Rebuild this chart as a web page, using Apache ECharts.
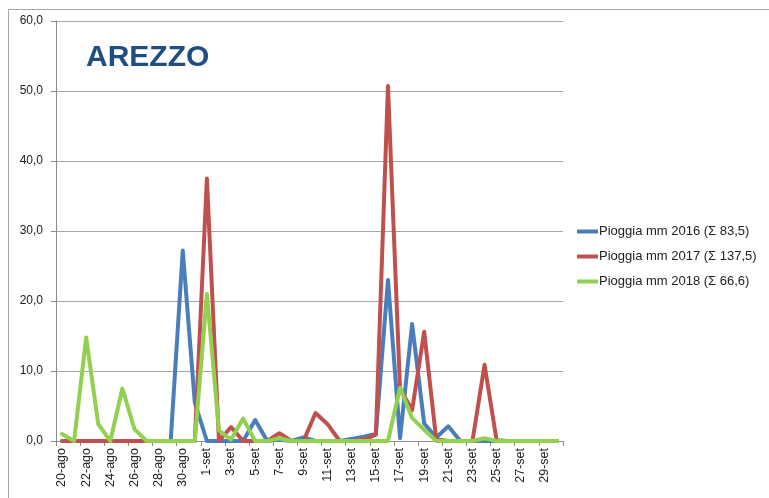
<!DOCTYPE html>
<html>
<head>
<meta charset="utf-8">
<title>Arezzo</title>
<script src="https://cdn.jsdelivr.net/npm/echarts@6/dist/echarts.min.js"></script>
<style>
  html, body { margin: 0; padding: 0; background: #fff; }
  #chart { width: 769px; height: 498px; }
</style>
</head>
<body>
<div id="chart"></div>
<script>
// giorni dal 20 agosto al 30 settembre
const days = [
  '20-ago', '21-ago', '22-ago', '23-ago', '24-ago', '25-ago', '26-ago', '27-ago', '28-ago', '29-ago', '30-ago', '31-ago',
  '1-set', '2-set', '3-set', '4-set', '5-set', '6-set', '7-set', '8-set', '9-set', '10-set',
  '11-set', '12-set', '13-set', '14-set', '15-set', '16-set', '17-set', '18-set', '19-set', '20-set',
  '21-set', '22-set', '23-set', '24-set', '25-set', '26-set', '27-set', '28-set', '29-set', '30-set'
]

const rain2016 = [
  0, 0, 0, 0, 0, 0, 0, 0, 0, 0, 27.2, 5.5,
  0, 0, 0, 0, 3.0, 0, 0.2, 0, 0.5, 0,
  0, 0, 0.3, 0.6, 1.0, 23.0, 0.4, 16.7, 2.5, 0.5,
  2.1, 0, 0, 0, 0, 0, 0, 0, 0, 0
]

const rain2017 = [
  0, 0, 0, 0, 0, 0, 0, 0, 0, 0, 0, 0,
  37.5, 0, 2.0, 0, 0, 0, 1.1, 0, 0, 4.0,
  2.4, 0, 0, 0.2, 0.9, 50.7, 7.5, 4.4, 15.6, 0.2,
  0, 0, 0, 10.9, 0.1, 0, 0, 0, 0, 0
]

const rain2018 = [
  1.0, 0, 14.8, 2.4, 0, 7.5, 1.7, 0, 0, 0, 0, 0,
  21.0, 1.5, 0.2, 3.2, 0, 0, 0.4, 0, 0, 0,
  0, 0, 0, 0, 0, 0, 7.6, 3.3, 1.6, 0,
  0, 0, 0, 0.4, 0, 0, 0, 0, 0, 0
]

const seriesNames = [
  'Pioggia mm 2016 (Σ 83,5)',
  'Pioggia mm 2017 (Σ 137,5)',
  'Pioggia mm 2018 (Σ 66,6)'
]

const colors = ['#4a7ebb', '#c0504d', '#92d050']

const font = '"Liberation Sans", Arial, sans-serif'

const chart = echarts.init(document.getElementById('chart'))

function line(name, data, color) {
  return {
    name,
    type: 'line',
    data,
    symbol: 'none',
    smooth: false,
    lineStyle: {
      width: 4,
      color,
      cap: 'round',
      join: 'round'
    },
    itemStyle: { color },
    animation: false
  }
}

chart.setOption({
  color: colors,
  title: {
    text: 'AREZZO',
    left: 81,
    top: 38,
    textStyle: {
      fontFamily: font,
      fontSize: 30,
      fontWeight: 'bold',
      color: '#1f4e83'
    }
  },
  legend: {
    orient: 'vertical',
    left: 577,
    top: 225,
    padding: 0,
    icon: 'rect',
    itemWidth: 21,
    itemHeight: 4,
    itemGap: 12,
    textStyle: {
      fontFamily: font,
      fontSize: 13,
      color: '#222',
      padding: [0, 0, 0, -4]
    },
    data: seriesNames
  },
  grid: {
    left: 56,
    top: 21,
    right: 206,
    bottom: 57
  },
  xAxis: {
    type: 'category',
    data: days,
    boundaryGap: true,
    axisLine: {
      lineStyle: { color: '#8c8c8c', width: 1 }
    },
    axisTick: {
      show: true,
      interval: 1,
      length: 5,
      lineStyle: { color: '#8c8c8c' }
    },
    axisLabel: {
      interval: 1,
      rotate: 90,
      margin: 7,
      fontFamily: font,
      fontSize: 12.5,
      color: '#222'
    },
    splitLine: { show: false }
  },
  yAxis: {
    type: 'value',
    min: 0,
    max: 60,
    interval: 10,
    axisLine: {
      show: true,
      lineStyle: { color: '#8c8c8c', width: 1 }
    },
    axisTick: {
      show: true,
      length: 5,
      lineStyle: { color: '#8c8c8c' }
    },
    axisLabel: {
      margin: 13,
      fontFamily: font,
      fontSize: 12,
      color: '#222',
      formatter: v => v.toFixed(1).replace('.', ',')
    },
    splitLine: {
      lineStyle: { color: '#a6a6a6', width: 1 }
    }
  },
  graphic: [{
    type: 'polyline',
    shape: { points: [[8.5, 510], [8.5, 9.5], [780, 9.5]] },
    style: { stroke: '#a6a6a6', lineWidth: 1, fill: null },
    silent: true
  }],
  series: [
    line(seriesNames[0], rain2016, colors[0]),
    line(seriesNames[1], rain2017, colors[1]),
    line(seriesNames[2], rain2018, colors[2])
  ]
})
</script>
</body>
</html>
